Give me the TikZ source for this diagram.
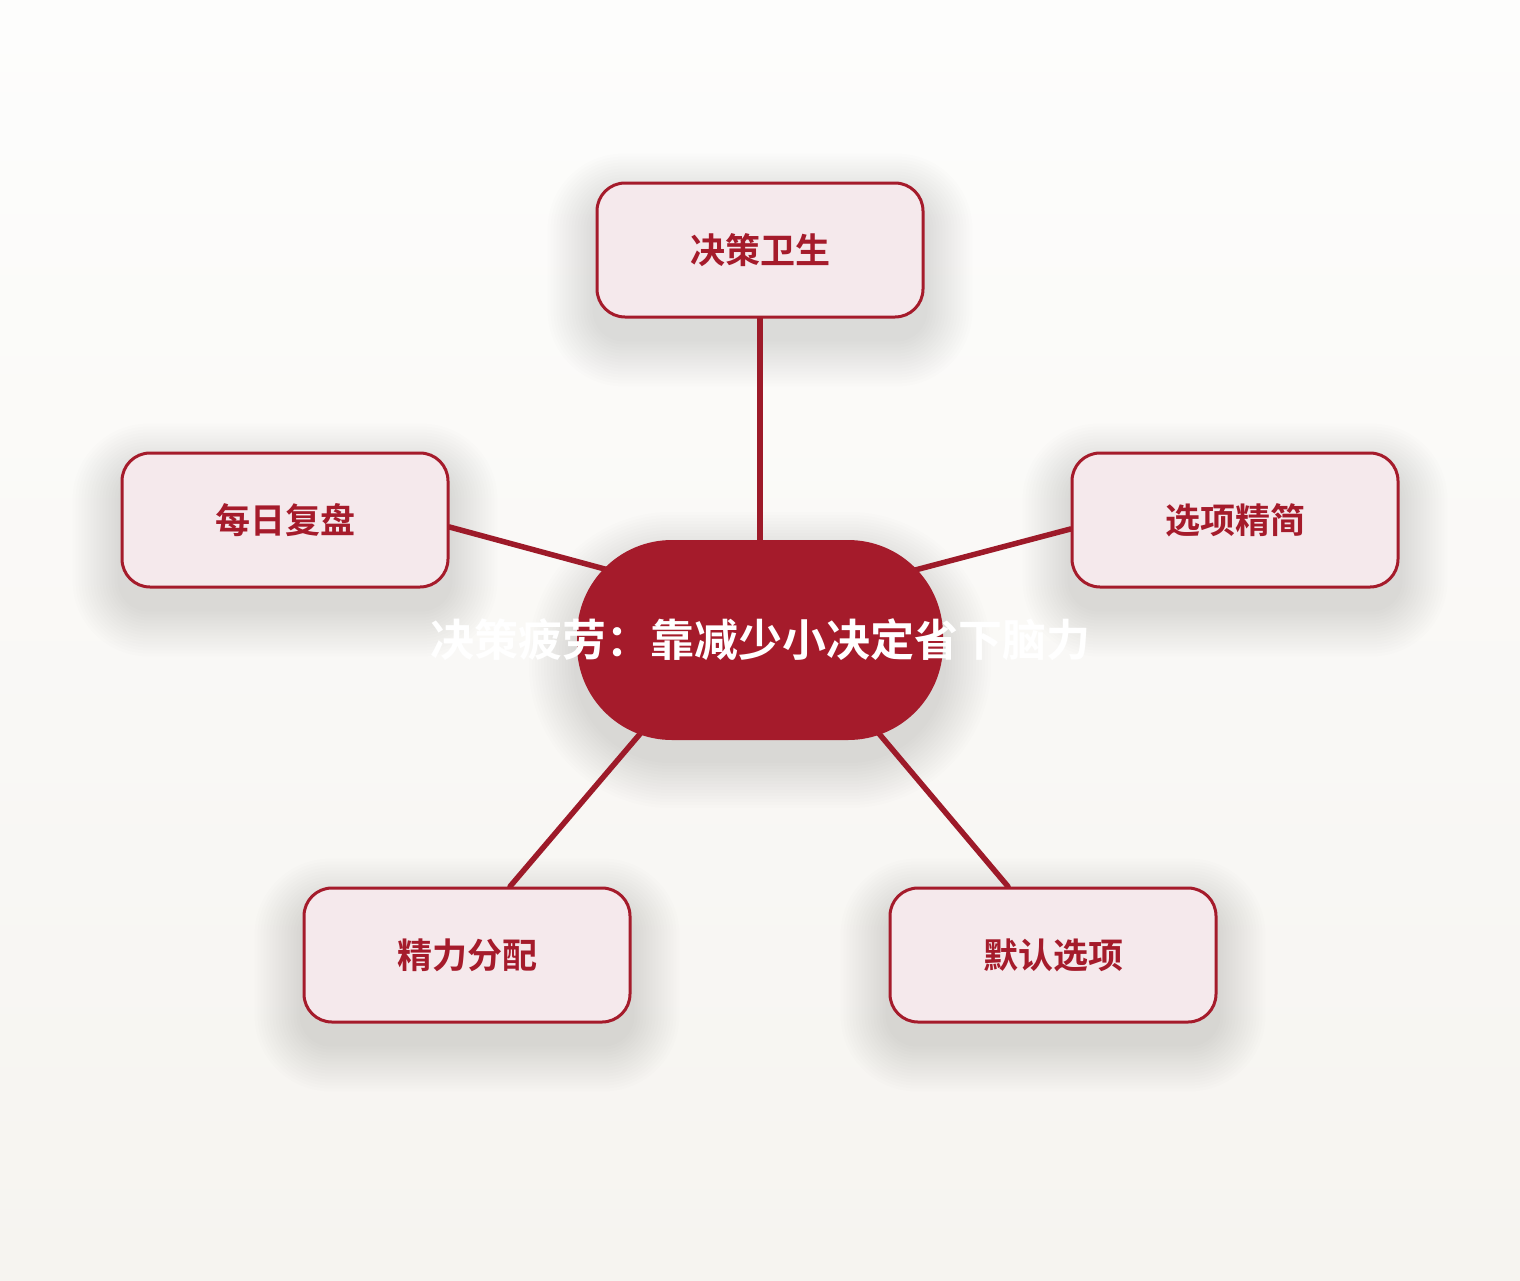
\documentclass[tikz,border=0pt]{standalone}
\usepackage{fontspec}
\newfontfamily\cjk{Noto Sans CJK SC}[BoldFont={Noto Sans CJK SC Bold}]
\definecolor{fatiguered}{RGB}{165,27,43}
\definecolor{petalfill}{RGB}{245,233,236}
\definecolor{bgtop}{RGB}{253,253,252}
\definecolor{bgbottom}{RGB}{246,244,240}
\definecolor{shadowtone}{RGB}{60,55,45}
\pgfdeclarelayer{back}
\pgfdeclarelayer{shade}
\pgfdeclarelayer{links}
\pgfsetlayers{back,shade,links,main}

\begin{document}
\begin{tikzpicture}[
      x=1pt, y=-1pt,
      petal/.style={draw=fatiguered, line width=3pt, fill=petalfill, rounded corners=28pt,
        minimum width=326pt, minimum height=134pt, align=center,
        font=\cjk\bfseries\fontsize{35}{40}\selectfont, text=fatiguered},
      hubnode/.style={fill=fatiguered, rounded corners=95pt, minimum width=366pt, minimum height=200pt,
        inner sep=0pt, font=\cjk\bfseries\fontsize{44}{50}\selectfont, text=white},
      glow/.style={fill=shadowtone, opacity=0.009},
      link/.style={draw=fatiguered!95!black, line width=5.5pt, line cap=round}
    ]
      % Background
      \begin{pgfonlayer}{back}
        \shade[top color=bgtop, bottom color=bgbottom] (0,0) rectangle (1520,1280);
      \end{pgfonlayer}
      \useasboundingbox (0,0) rectangle (1520,1280);

      % Hub
      \node[hubnode] (hub) at (760,640) {\makebox[0pt][c]{决策疲劳：靠减少小决定省下脑力}};

      % Petals
      \node[petal] (hygiene) at (760,250) {决策卫生};
      \node[petal] (review) at (285,520) {每日复盘};
      \node[petal] (options) at (1235,520) {选项精简};
      \node[petal] (energy) at (467,955) {精力分配};
      \node[petal] (defaults) at (1053,955) {默认选项};

      % Soft shadows
      \begin{pgfonlayer}{shade}
        \foreach \n/\c in {hygiene/28, review/28, options/28, energy/28, defaults/28, hub/95}
          \foreach \r in {3,6,...,48}
            \fill[glow, rounded corners=\c+\r] ([shift={(-\r,-\r+20)}]\n.north west) rectangle ([shift={(\r,\r+20)}]\n.south east);
      \end{pgfonlayer}

      % Links
      \begin{pgfonlayer}{links}
        \draw[link] (hub.center) -- (hygiene.south);
        \draw[link] ([yshift=29pt]hub.center) -- ([yshift=-7pt]review.east);
        \draw[link] ([yshift=29pt]hub.center) -- ([yshift=-9pt]options.west);
        \draw[link] ([xshift=-40pt]hub.center) -- ([xshift=43pt]energy.north);
        \draw[link] ([xshift=40pt]hub.center) -- ([xshift=-45pt]defaults.north);
      \end{pgfonlayer}
    \end{tikzpicture}
\end{document}
